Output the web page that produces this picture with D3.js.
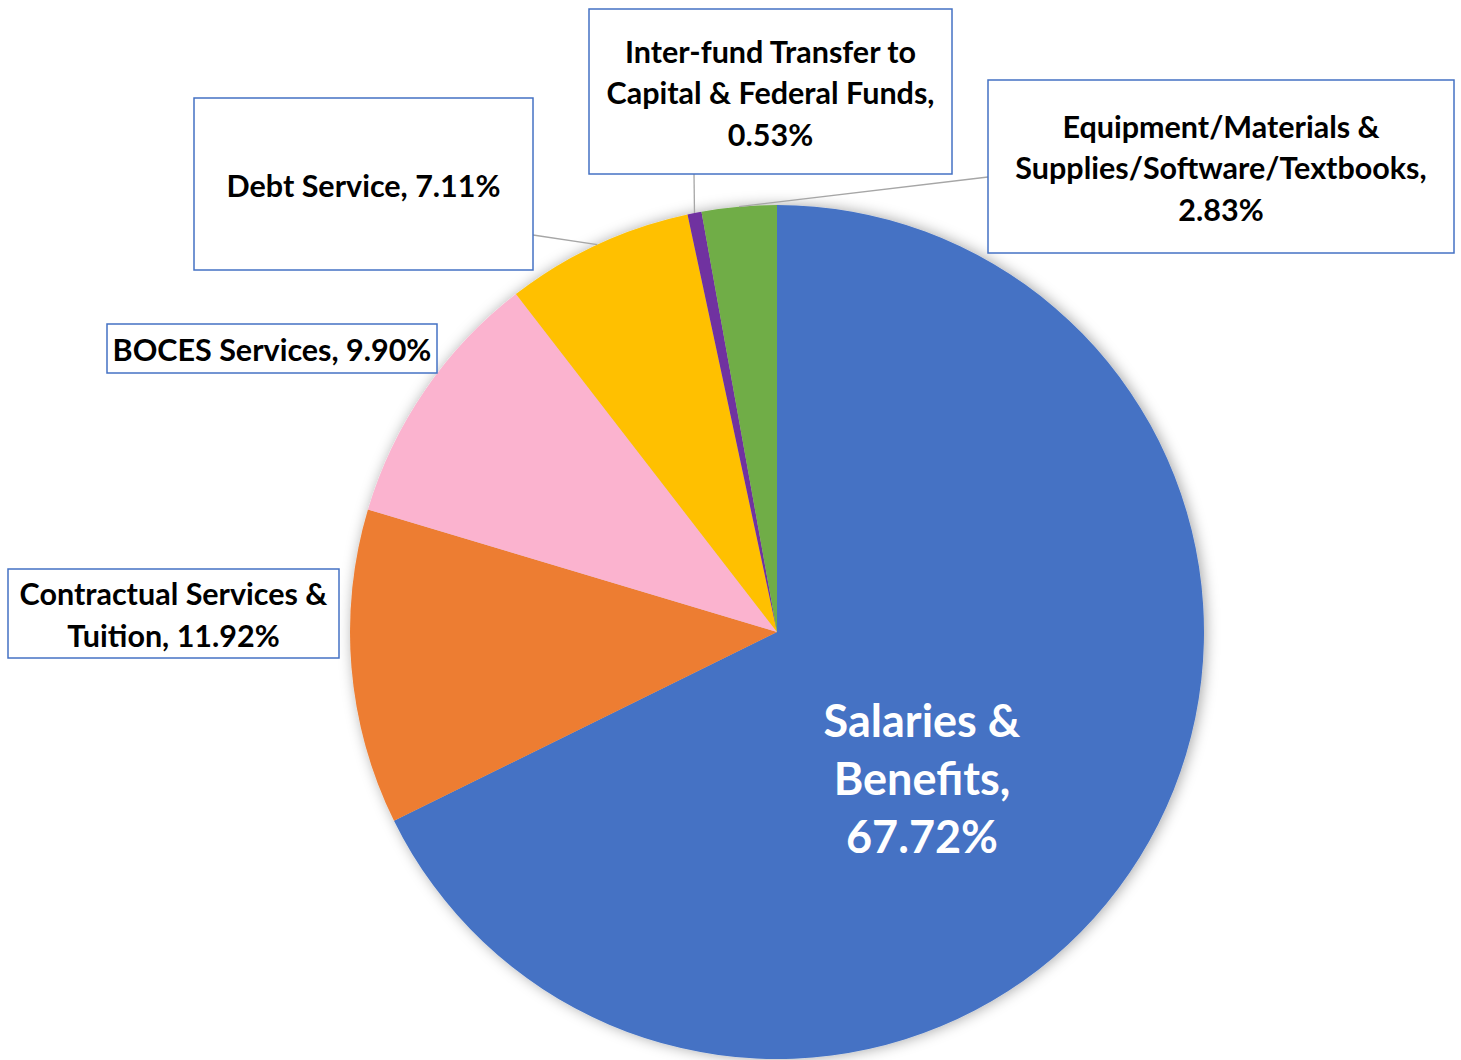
<!DOCTYPE html>
<html lang="en">
<head>
    <meta charset="UTF-8">
    <title>Budget by category</title>
    <script src="https://d3js.org/d3.v7.min.js"></script>
    <style>
        body { margin: 0; background: #ffffff; }
        text { font-family: Lato, "Open Sans", sans-serif; font-weight: bold; }
    </style>
</head>
<body>
<div id="pie_chart"></div>

<script>
    // Data (percent of total)
    var categories = [
        "Salaries & Benefits",
        "Contractual Services & Tuition",
        "BOCES Services",
        "Debt Service",
        "Inter-fund Transfer to Capital & Federal Funds",
        "Equipment/Materials & Supplies/Software/Textbooks"
    ];
    var shares = [67.72, 11.92, 9.90, 7.11, 0.53, 2.83];
    var labelLines = [
        ["Salaries &", "Benefits,", "67.72%"],
        ["Contractual Services &", "Tuition, 11.92%"],
        ["BOCES Services, 9.90%"],
        ["Debt Service, 7.11%"],
        ["Inter-fund Transfer to", "Capital & Federal Funds,", "0.53%"],
        ["Equipment/Materials &", "Supplies/Software/Textbooks,", "2.83%"]
    ];
    var colors = ["#4472C4", "#ED7D31", "#FBB3CF", "#FFC000", "#7030A0", "#70AD47"];

    // Layout of label boxes: [x, y, width, height], null = label inside slice
    var boxes = [
        null,
        [8, 569, 331, 89],
        [107, 324, 330, 49],
        [194, 98, 339, 172],
        [589, 9, 363, 165],
        [988, 80, 466, 173]
    ];
    // Point on the box where the leader line starts (null = no leader)
    var leaderStart = [null, null, null, [533, 235], [694, 174], [988, 177]];

    var width = 1461, height = 1060;
    var cx = 777, cy = 632, radius = 427;

    var svg = d3.select("#pie_chart")
        .append("svg")
        .attr("width", width)
        .attr("height", height);

    // Soft shadow round the pie
    var filter = svg.append("defs").append("filter")
        .attr("id", "shadow")
        .attr("x", "-20%").attr("y", "-20%")
        .attr("width", "140%").attr("height", "140%");
    filter.append("feDropShadow")
        .attr("dx", 2).attr("dy", 0)
        .attr("stdDeviation", 7)
        .attr("flood-color", "#000")
        .attr("flood-opacity", 0.35);

    var data = categories.map(function(c, i) {
        return { name: c, value: shares[i], color: colors[i], lines: labelLines[i], box: boxes[i], lead: leaderStart[i] };
    });

    var pie = d3.pie()
        .sort(null)
        .value(function(d) { return d.value; });

    var arc = d3.arc()
        .innerRadius(0)
        .outerRadius(radius);

    var arcs = pie(data);

    var g = svg.append("g")
        .attr("transform", "translate(" + cx + "," + cy + ")");

    // Slices
    g.append("g")
        .attr("filter", "url(#shadow)")
        .selectAll("path")
        .data(arcs)
        .enter()
        .append("path")
        .attr("d", arc)
        .attr("fill", function(d) { return d.data.color; });

    // Leader lines, from the box to the slice edge at the middle angle
    svg.selectAll("line.leader")
        .data(arcs.filter(function(d) { return d.data.lead; }))
        .enter()
        .append("line")
        .attr("class", "leader")
        .attr("x1", function(d) { return d.data.lead[0]; })
        .attr("y1", function(d) { return d.data.lead[1]; })
        .attr("x2", function(d) {
            var a = (d.startAngle + d.endAngle) / 2;
            return cx + radius * Math.sin(a);
        })
        .attr("y2", function(d) {
            var a = (d.startAngle + d.endAngle) / 2;
            return cy - radius * Math.cos(a);
        })
        .attr("stroke", "#a6a6a6")
        .attr("stroke-width", 1.3);

    // Label boxes
    var outside = arcs.filter(function(d) { return d.data.box; });
    var labels = svg.selectAll("g.label")
        .data(outside)
        .enter()
        .append("g")
        .attr("class", "label");

    labels.append("rect")
        .attr("x", function(d) { return d.data.box[0]; })
        .attr("y", function(d) { return d.data.box[1]; })
        .attr("width", function(d) { return d.data.box[2]; })
        .attr("height", function(d) { return d.data.box[3]; })
        .attr("fill", "#ffffff")
        .attr("stroke", "#4472C4")
        .attr("stroke-width", 1.5);

    var lineH = 41.5;
    labels.each(function(d) {
        var b = d.data.box;
        var n = d.data.lines.length;
        var midX = b[0] + b[2] / 2;
        var midY = b[1] + b[3] / 2 + 2;
        var t = d3.select(this).append("text")
            .attr("text-anchor", "middle")
            .attr("font-size", 30.5)
            .attr("fill", "#000000");
        d.data.lines.forEach(function(line, k) {
            t.append("tspan")
                .attr("x", midX)
                .attr("y", midY + (k - (n - 1) / 2) * lineH)
                .attr("dy", "0.35em")
                .text(line);
        });
    });

    // Label inside the big slice
    var inside = arcs[0];
    var inText = svg.append("text")
        .attr("text-anchor", "middle")
        .attr("font-size", 45)
        .attr("fill", "#ffffff");
    inside.data.lines.forEach(function(line, k) {
        inText.append("tspan")
            .attr("x", 922)
            .attr("y", 779 + (k - 1) * 58)
            .attr("dy", "0.35em")
            .text(line);
    });
</script>
</body>
</html>
